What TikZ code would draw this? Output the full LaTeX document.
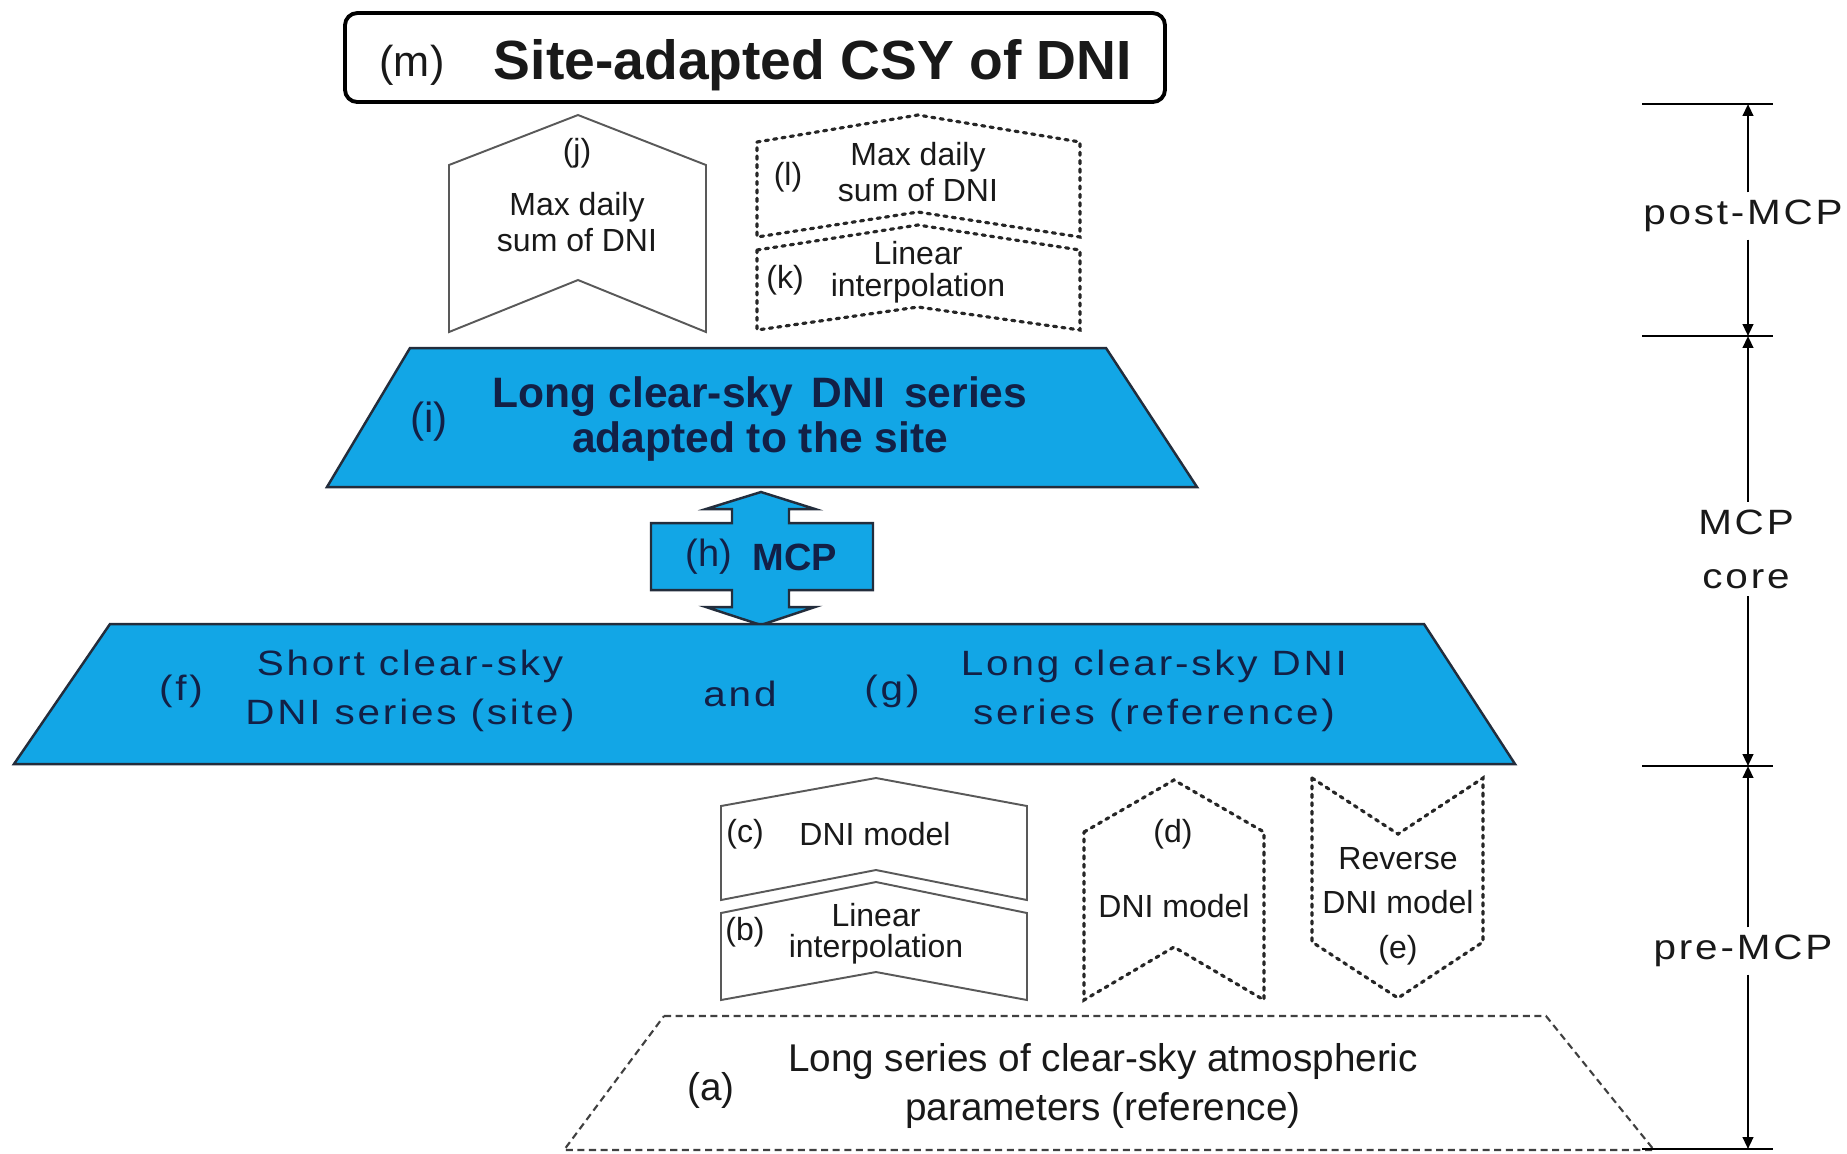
\documentclass[tikz,border=0pt]{standalone}
\usepackage{fontspec}
\setmainfont{Liberation Sans}
\newfontfamily\spacedfont[FakeStretch=1.15,LetterSpace=8]{Liberation Sans}
\usetikzlibrary{arrows.meta}
\definecolor{skyb}{RGB}{18,166,230}
\definecolor{edgec}{RGB}{35,45,60}
\definecolor{txt}{RGB}{25,25,25}
\definecolor{navytxt}{RGB}{18,32,70}
\begin{document}
\begin{tikzpicture}[x=0.01cm,y=-0.01cm,
  wshape/.style={draw=black!65, line width=0.55pt, fill=white, line join=miter},
  dotshape/.style={draw=black!85, line width=0.9pt, dash pattern=on 0.9pt off 1.5pt, line cap=round},
  dashshape/.style={draw=black!75, line width=0.6pt, dash pattern=on 2pt off 1.3pt},
  bshape/.style={draw=edgec, line width=0.7pt, fill=skyb},
  lbl/.style={inner sep=0pt, align=center, text=txt},
  small/.style={lbl, font=\fontsize{9.1}{10.2}\selectfont},
  mid/.style={lbl, font=\fontsize{11}{14.2}\selectfont},
  spaced/.style={lbl, font=\spacedfont\fontsize{10}{14}\selectfont},
  bluetxt/.style={text=navytxt},
  dimline/.style={line width=0.65pt, -{Triangle[length=3.4pt,width=3pt]}},
  tickline/.style={line width=0.45pt}
]
\useasboundingbox (0,0) rectangle (1847,1153);
\fill[white] (0,0) rectangle (1847,1153);

% (m) title box
\draw[line width=1.1pt, rounded corners=3.5pt] (345,13) rectangle (1165,102);
\node[lbl, font=\fontsize{12.3}{14}\selectfont] (mlab) at (412,65) {(m)};
\node[lbl, font=\bfseries\fontsize{15.7}{18}\selectfont] (mtitle) at (813,65) {Site-adapted CSY of DNI};

% (j)
\draw[wshape] (449,165) -- (578,115) -- (706,165) -- (706,332) -- (578,280) -- (449,332) -- cycle;
\node[small] (jlab) at (577,153) {(j)};
\node[small] (jtxt) at (577,222) {Max daily\\sum of DNI};

% (l) and (k)
\draw[dotshape] (757,142) -- (918,115) -- (1080,142) -- (1080,237) -- (918,212) -- (757,237) -- cycle;
\draw[dotshape] (757,250) -- (918,225) -- (1080,250) -- (1080,330) -- (918,307) -- (757,330) -- cycle;
\node[small] (llab) at (788,177) {(l)};
\node[small] (ltxt) at (918,172) {Max daily\\sum of DNI};
\node[small] (klab) at (785,280) {(k)};
\node[small, font=\fontsize{9.1}{9}\selectfont] (ktxt) at (918,272) {Linear\\interpolation};

% (i)
\draw[bshape] (410,348) -- (1106,348) -- (1197,487) -- (327,487) -- cycle;
\node[lbl, bluetxt, font=\fontsize{12}{13}\selectfont] (ilab) at (429,422) {(i)};
\node[lbl, bluetxt, font=\bfseries\fontsize{12.1}{13}\selectfont] (itxt) at (760,419) {Long clear-sky\, DNI\, series\\adapted to the site};

% (h) double arrow
\draw[bshape, line join=miter]
  (761,492) -- (815,509) -- (789,509) -- (789,523) -- (873,523) -- (873,590)
  -- (789,590) -- (789,607) -- (815,607) -- (761,625) -- (706,607) -- (732,607)
  -- (732,590) -- (651,590) -- (651,523) -- (732,523) -- (732,509) -- (706,509) -- cycle;
\node[lbl, bluetxt, font=\fontsize{10.8}{12}\selectfont] (hlab) at (709,557) {(h)};
\node[lbl, bluetxt, font=\bfseries\fontsize{10.8}{12}\selectfont] (htxt) at (795,557) {MCP};

% (f) and (g)
\draw[bshape] (110,624) -- (1424,624) -- (1515,764) -- (14,764) -- cycle;
\node[spaced, bluetxt] (flab) at (181,691) {(f)};
\node[spaced, bluetxt] (ftxt) at (410,691) {Short clear-sky\\DNI series (site)};
\node[spaced, bluetxt] (andtxt) at (740,694) {and};
\node[spaced, bluetxt] (glab) at (892,691) {(g)};
\node[spaced, bluetxt] (gtxt) at (1154,691) {Long clear-sky DNI\\series (reference)};

% (c) and (b)
\draw[wshape] (721,806) -- (876,778) -- (1027,806) -- (1027,900) -- (876,870) -- (721,900) -- cycle;
\draw[wshape] (721,913) -- (876,882) -- (1027,913) -- (1027,1000) -- (876,972) -- (721,1000) -- cycle;
\node[small] (clab) at (745,834) {(c)};
\node[small] (ctxt) at (875,834) {DNI model};
\node[small] (blab) at (745,932) {(b)};
\node[small, font=\fontsize{9.1}{8.8}\selectfont] (btxt) at (876,934) {Linear\\interpolation};

% (d)
\draw[dotshape] (1084,832) -- (1174,780) -- (1264,832) -- (1264,1000) -- (1174,947) -- (1084,1000) -- cycle;
\node[small] (dlab) at (1173,834) {(d)};
\node[small] (dtxt) at (1174,906) {DNI model};

% (e)
\draw[dotshape] (1312,778) -- (1398,834) -- (1483,778) -- (1483,942) -- (1398,998) -- (1312,942) -- cycle;
\node[small, font=\fontsize{9.1}{12.6}\selectfont] (etxt) at (1398,906) {Reverse\\DNI model\\(e)};

% (a)
\draw[dashshape] (664,1016) -- (1546,1016) -- (1654,1150) -- (564,1150) -- cycle;
\node[mid] (alab) at (711,1090) {(a)};
\node[mid] (atxt) at (1103,1086) {Long series of clear-sky atmospheric\\parameters (reference)};

% right-hand phase scale
\coordinate (t1) at (1748,104);
\coordinate (t2) at (1748,336);
\coordinate (t3) at (1748,766);
\coordinate (t4) at (1748,1149);
\draw[tickline] (1642,104) -- (1773,104);
\draw[tickline] (1642,336) -- (1773,336);
\draw[tickline] (1642,766) -- (1773,766);
\draw[tickline] (1642,1149) -- (1773,1149);
\node[spaced, inner sep=2pt] (post) at (1743,216) {post-MCP};
\node[spaced, inner sep=2pt, font=\spacedfont\fontsize{10}{15.4}\selectfont] (core) at (1746,549) {MCP\\core};
\node[spaced, inner sep=2pt] (pre) at (1743,951) {pre-MCP};
\draw[dimline] (post.north -| t1) -- (t1);
\draw[dimline] (post.south -| t1) -- (t2);
\draw[dimline] (core.north -| t1) -- (t2);
\draw[dimline] (core.south -| t1) -- (t3);
\draw[dimline] (pre.north -| t1) -- (t3);
\draw[dimline] (pre.south -| t1) -- (t4);
\end{tikzpicture}
\end{document}
